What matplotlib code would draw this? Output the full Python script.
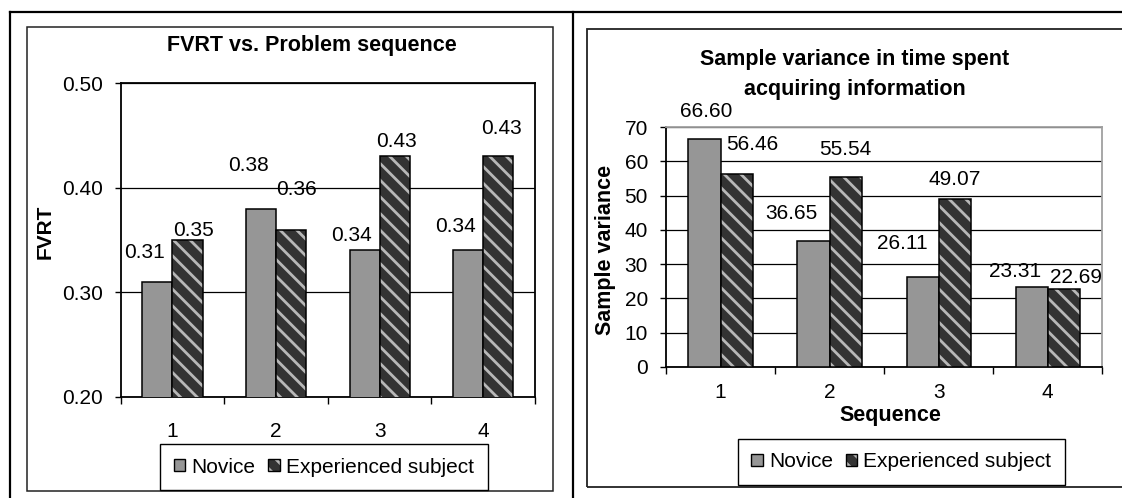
import matplotlib
matplotlib.use("Agg")
import matplotlib.pyplot as plt
from matplotlib.patches import Patch, Rectangle
from matplotlib.lines import Line2D
import numpy as np

plt.rcParams["font.family"] = ["Liberation Sans", "DejaVu Sans"]
plt.rcParams["hatch.linewidth"] = 2.0

# data
sequence = ["1", "2", "3", "4"]
series = ["Novice", "Experienced subject"]
fvrt_novice = [0.31, 0.38, 0.34, 0.34]
fvrt_expert = [0.35, 0.36, 0.43, 0.43]
var_novice = [66.60, 36.65, 26.11, 23.31]
var_expert = [56.46, 55.54, 49.07, 22.69]

# label nudges (pixels: dx, dy above bar top) as placed in the original
fvrt_nov_off = [(-13, 29), (-13, 43), (-13, 15), (-13, 24)]
fvrt_exp_off = [(6, 10), (5, 40), (2, 15), (3, 28)]
var_nov_off = [(2, 27), (-22, 28), (-20, 34), (-17, 15)]
var_exp_off = [(16, 29), (0, 27), (0, 19), (12, 12)]

NOVICE = "#969696"
DARK = "#333333"
STRIPE = "#b8b8b8"
W, H = 1122, 498

fig = plt.figure(figsize=(W / 100, H / 100), dpi=100)


def fx(px):
    return px / W


def fy(py):
    return 1 - py / H


# table lines and chart frames
fig.add_artist(Line2D([fx(10), 1], [fy(12), fy(12)], color="black", lw=1.6))
fig.add_artist(Line2D([fx(10), fx(10)], [fy(12), 0], color="black", lw=1.6))
fig.add_artist(Line2D([fx(572.7), fx(572.7)], [fy(12), 0], color="black", lw=1.6))
fig.add_artist(Rectangle((fx(26.7), fy(491)), fx(552.7 - 26.7), (491 - 26.7) / H,
                         fill=False, ec="#222222", lw=1.1))
fig.add_artist(Rectangle((fx(586.7), fy(487)), fx(1140 - 586.7), (487 - 29.3) / H,
                         fill=False, ec="#222222", lw=1.3))


def draw(ax, nov, exp, width, nov_off, exp_off, fmt):
    x = np.arange(len(sequence))
    ax.bar(x - width / 2, nov, width, color=NOVICE, edgecolor="black", lw=1.1, zorder=3)
    ax.bar(x + width / 2, exp, width, color=DARK, edgecolor=STRIPE, lw=0,
           hatch="\\\\", zorder=3)
    ax.bar(x + width / 2, exp, width, fill=False, edgecolor="black", lw=1.1, zorder=4)
    for i in range(len(x)):
        ax.annotate(fmt % nov[i], (x[i] - width / 2, nov[i]),
                    xytext=(nov_off[i][0] * 0.72, nov_off[i][1] * 0.72),
                    textcoords="offset points", ha="center", va="center", fontsize=15)
        ax.annotate(fmt % exp[i], (x[i] + width / 2, exp[i]),
                    xytext=(exp_off[i][0] * 0.72, exp_off[i][1] * 0.72),
                    textcoords="offset points", ha="center", va="center", fontsize=15)
    ax.set_xlim(-0.5, len(x) - 0.5)
    ax.set_xticks(x)
    ax.set_xticklabels(sequence)
    ax.set_xticks(np.arange(-0.5, len(x)), minor=True)
    ax.tick_params(axis="x", which="major", length=0, labelsize=15)
    ax.tick_params(axis="x", which="minor", length=5, width=1, direction="out")
    ax.tick_params(axis="y", length=4, width=1, direction="out", labelsize=15, pad=9)
    ax.yaxis.grid(True, color="black", lw=0.9)
    ax.set_axisbelow(True)


def legend(center):
    h1 = Patch(facecolor=NOVICE, edgecolor="black", lw=1)
    h2a = Patch(facecolor=DARK, edgecolor=STRIPE, lw=0, hatch="\\\\")
    h2b = Patch(fill=False, edgecolor="black", lw=1)
    leg = fig.legend([h1, (h2a, h2b)], series, loc="center", bbox_to_anchor=center,
                     ncol=2, fontsize=15, handlelength=0.55, handleheight=0.55,
                     handletextpad=0.3, columnspacing=0.6, borderpad=0.65,
                     fancybox=False, framealpha=1, edgecolor="black")
    leg.get_frame().set_linewidth(1)


# left chart
ax1 = fig.add_axes([fx(120.7), fy(396.7), fx(535 - 120.7), (396.7 - 83.3) / H])
draw(ax1, fvrt_novice, fvrt_expert, 0.29, fvrt_nov_off, fvrt_exp_off, "%.2f")
ax1.set_ylim(0.2, 0.5)
ax1.set_yticks([0.2, 0.3, 0.4, 0.5])
ax1.set_yticklabels(["%.2f" % v for v in [0.2, 0.3, 0.4, 0.5]])
ax1.tick_params(axis="x", which="major", pad=18)
for s in ax1.spines.values():
    s.set_linewidth(1.3)
    s.set_color("black")
fig.text(fx(312), fy(46), "FVRT vs. Problem sequence", ha="center", va="center",
         fontsize=15.5, fontweight="bold")
fig.text(fx(45), fy(232), "FVRT", ha="center", va="center", rotation=90,
         fontsize=15, fontweight="bold")
legend((fx(324), fy(467)))

# right chart
ax2 = fig.add_axes([fx(666), fy(366.7), fx(1102.3 - 666), (366.7 - 127.3) / H])
draw(ax2, var_novice, var_expert, 0.295, var_nov_off, var_exp_off, "%.2f")
ax2.set_ylim(0, 70)
ax2.set_yticks(range(0, 71, 10))
ax2.tick_params(axis="x", which="major", pad=12)
for side in ["left", "bottom"]:
    ax2.spines[side].set_color("black")
    ax2.spines[side].set_linewidth(1.3)
for side in ["top", "right"]:
    ax2.spines[side].set_color("#a0a0a0")
    ax2.spines[side].set_linewidth(1.3)
fig.text(fx(855), fy(59), "Sample variance in time spent", ha="center", va="center",
         fontsize=15.5, fontweight="bold")
fig.text(fx(855), fy(89), "acquiring information", ha="center", va="center",
         fontsize=15.5, fontweight="bold")
fig.text(fx(605), fy(250), "Sample variance", ha="center", va="center", rotation=90,
         fontsize=15.5, fontweight="bold")
fig.text(fx(890), fy(415), "Sequence", ha="center", va="center",
         fontsize=15.5, fontweight="bold")
legend((fx(901.3), fy(461.7)))

fig.savefig("out.png", dpi=100)
